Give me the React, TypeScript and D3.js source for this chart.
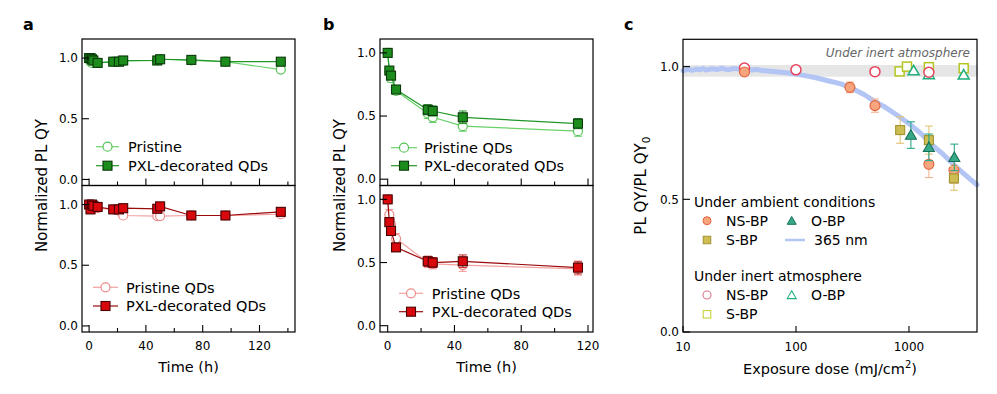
import React from 'react';
import * as d3 from 'd3';

const FONT = '"DejaVu Sans", Verdana, sans-serif';

// ---- panel a (storage, 135 h) ----
const aTime = [0, 1, 2, 3, 6, 17, 21, 24, 48, 50, 72, 96, 135];
const aGreenPristine = [1.0, 0.97, 0.96, 0.97, 0.96, 0.97, 0.97, 0.975, 0.98, 0.99, 0.98, 0.97, 0.905];
const aGreenPXL = [1.0, 1.0, 0.99, 0.98, 0.96, 0.97, 0.97, 0.98, 0.98, 0.99, 0.985, 0.97, 0.97];
const aRedPristine = [1.0, 0.99, 0.98, 0.98, 0.97, 0.96, 0.95, 0.91, 0.905, 0.905, 0.91, 0.91, 0.92];
const aRedPXL = [1.0, 0.96, 1.0, 0.99, 0.98, 0.96, 0.96, 0.97, 0.965, 0.985, 0.91, 0.91, 0.94];

// ---- panel b (illumination, 115 h) ----
const bTime = [0, 1, 2, 5, 24, 27, 45, 114];
const bGreenPristine = [1.0, 0.85, 0.8, 0.7, 0.52, 0.49, 0.42, 0.38];
const bGreenPristineErr = [0.01, 0.02, 0.03, 0.03, 0.04, 0.04, 0.04, 0.04];
const bGreenPXL = [1.0, 0.86, 0.82, 0.71, 0.55, 0.54, 0.49, 0.44];
const bGreenPXLErr = [0.01, 0.02, 0.02, 0.03, 0.04, 0.04, 0.05, 0.04];
const bRedPristine = [1.0, 0.88, 0.8, 0.69, 0.5, 0.49, 0.48, 0.45];
const bRedPristineErr = [0.01, 0.04, 0.04, 0.04, 0.04, 0.04, 0.05, 0.05];
const bRedPXL = [1.0, 0.82, 0.75, 0.62, 0.51, 0.5, 0.51, 0.46];
const bRedPXLErr = [0.01, 0.03, 0.03, 0.03, 0.04, 0.04, 0.05, 0.05];

const timeMajor = [0, 40, 80, 120];
const aTimeMinor = [20, 60, 100, 140];
const bTimeMinor = [20, 60, 100];
const qyTicks = [0, 0.5, 1.0];

// ---- panel c (exposure dose) ----
const lamp365Dose = [10, 11, 12, 13, 14, 15, 16, 18, 20, 22, 25, 28, 32, 36, 40, 45, 50, 60, 70, 85, 100, 120, 150, 200, 250, 300, 400, 500, 600, 800, 1000, 1300, 1600, 2000, 2500, 3000, 3500, 4000];
const lamp365QY = [0.985, 0.99, 0.986, 0.991, 0.988, 0.993, 0.987, 0.992, 0.989, 0.994, 0.988, 0.993, 0.99, 0.992, 0.987, 0.989, 0.985, 0.983, 0.98, 0.976, 0.972, 0.966, 0.958, 0.945, 0.935, 0.922, 0.895, 0.868, 0.85, 0.815, 0.785, 0.745, 0.705, 0.67, 0.63, 0.6, 0.575, 0.555];

const ambNSDose = [35, 300, 500, 1500, 2500];
const ambNSQY = [0.98, 0.922, 0.853, 0.632, 0.61];
const ambNSErr = [0.01, 0.02, 0.025, 0.05, 0.05];
const ambSDose = [836, 1500, 2500];
const ambSQY = [0.761, 0.723, 0.579];
const ambSErr = [0.05, 0.053, 0.045];
const ambODose = [1040, 1500, 2520];
const ambOQY = [0.742, 0.696, 0.658];
const ambOErr = [0.05, 0.05, 0.05];

const inNSDose = [35, 100, 500, 1500];
const inNSQY = [0.995, 0.988, 0.981, 0.979];
const inSDose = [826, 960, 1500, 3050];
const inSQY = [0.982, 1.0, 0.998, 0.994];
const inODose = [1100, 1500, 3050];
const inOQY = [0.985, 0.97, 0.969];

const doseTicks = [10, 100, 1000];
const inertBand = [0.962, 1.006];

type Kind = 'circle' | 'square' | 'triangle';

function Marker({ kind, x, y, size, fill, stroke, sw = 1 }: { kind: Kind; x: number; y: number; size: number; fill: string; stroke: string; sw?: number }) {
  if (kind === 'circle') return <circle cx={x} cy={y} r={size / 2} fill={fill} stroke={stroke} strokeWidth={sw} />;
  if (kind === 'square') return <rect x={x - size / 2} y={y - size / 2} width={size} height={size} fill={fill} stroke={stroke} strokeWidth={sw} />;
  const area = (Math.sqrt(3) / 4) * size * size;
  const d = d3.symbol(d3.symbolTriangle, area)() || '';
  return <path d={d} transform={`translate(${x},${y + 1})`} fill={fill} stroke={stroke} strokeWidth={sw} />;
}

interface Series {
  t: number[];
  v: number[];
  err?: number[];
  kind: Kind;
  fill: string;
  stroke: string;
  line: string;
  errColor?: string;
  label: string;
}

interface LegendPos { x0: number; x1: number; text: number; rows: number[] }

function SubPlot({ x, top, bottom, yDomain, series, legend, minor, showX }: {
  x: d3.ScaleLinear<number, number>; top: number; bottom: number; yDomain: [number, number];
  series: Series[]; legend: LegendPos; minor: number[]; showX: boolean;
}) {
  const y = d3.scaleLinear().domain(yDomain).range([bottom, top]);
  const [left, right] = x.range();
  const fmt = d3.format('.1f');
  return (
    <g>
      {series.map((s, si) => {
        const line = d3.line<number>().x((_, i) => x(s.t[i])).y((d) => y(d));
        return (
          <g key={si}>
            {s.err && s.err.map((e, i) => (
              <g key={i} stroke={s.errColor || s.line} strokeWidth={1}>
                <line x1={x(s.t[i])} x2={x(s.t[i])} y1={y(s.v[i] - e)} y2={y(s.v[i] + e)} />
                <line x1={x(s.t[i]) - 4} x2={x(s.t[i]) + 4} y1={y(s.v[i] - e)} y2={y(s.v[i] - e)} />
                <line x1={x(s.t[i]) - 4} x2={x(s.t[i]) + 4} y1={y(s.v[i] + e)} y2={y(s.v[i] + e)} />
              </g>
            ))}
            <path d={line(s.v) || ''} fill="none" stroke={s.line} strokeWidth={1.2} />
            {s.v.map((v, i) => (
              <Marker key={i} kind={s.kind} x={x(s.t[i])} y={y(v)} size={9} fill={s.fill} stroke={s.stroke} sw={s.kind === 'square' ? 1.1 : 1.2} />
            ))}
          </g>
        );
      })}
      {series.map((s, si) => (
        <g key={`lg${si}`}>
          <line x1={legend.x0} x2={legend.x1} y1={legend.rows[si]} y2={legend.rows[si]} stroke={s.line} strokeWidth={1.2} />
          <Marker kind={s.kind} x={(legend.x0 + legend.x1) / 2} y={legend.rows[si]} size={9} fill={s.fill} stroke={s.stroke} sw={s.kind === 'square' ? 1.1 : 1.2} />
          <text x={legend.text} y={legend.rows[si]} dy="0.36em" fontSize={14.5} fontFamily={FONT}>{s.label}</text>
        </g>
      ))}
      <rect x={left} y={top} width={right - left} height={bottom - top} fill="none" stroke="#000" strokeWidth={1.2} />
      {qyTicks.map((t) => (
        <g key={`y${t}`}>
          <line x1={left} x2={left + 7} y1={y(t)} y2={y(t)} stroke="#000" strokeWidth={1.1} />
          <text x={left - 4} y={y(t)} dy="0.35em" textAnchor="end" fontSize={12} fontFamily={FONT}>{fmt(t)}</text>
        </g>
      ))}
      {timeMajor.map((t) => (
        <g key={`x${t}`}>
          <line x1={x(t)} x2={x(t)} y1={bottom} y2={bottom - 7} stroke="#000" strokeWidth={1.1} />
          {showX && <text x={x(t)} y={350} textAnchor="middle" fontSize={12} fontFamily={FONT}>{t}</text>}
        </g>
      ))}
      {minor.map((t) => (
        <line key={`m${t}`} x1={x(t)} x2={x(t)} y1={bottom} y2={bottom - 4} stroke="#000" strokeWidth={1.1} />
      ))}
    </g>
  );
}

const G_PRI = { kind: 'circle' as Kind, fill: '#fff', stroke: '#55c455', line: '#6ad26a', errColor: '#5fca5f' };
const G_PXL = { kind: 'square' as Kind, fill: '#1c8c1c', stroke: '#0a3a0a', line: '#22962a', errColor: '#1f8f25' };
const R_PRI = { kind: 'circle' as Kind, fill: '#fff', stroke: '#ef8a8a', line: '#f4a2a2', errColor: '#f09a9a' };
const R_PXL = { kind: 'square' as Kind, fill: '#d8080c', stroke: '#4a0000', line: '#9a0a0a', errColor: '#c02020' };

function PanelC() {
  const x = d3.scaleLog().domain([10, 4000]).range([683, 977]);
  const y = d3.scaleLinear().domain([0, 1.103]).range([332, 39.3]);
  const [left, right] = x.range();
  const top = 39.3, bottom = 332;
  const fmt = d3.format('.1f');
  const blue = d3.line<number>().x((_, i) => x(lamp365Dose[i])).y((d) => y(d)).curve(d3.curveLinear);

  const amb = [
    { dose: ambNSDose, v: ambNSQY, err: ambNSErr, kind: 'circle' as Kind, fill: '#f6a57c', stroke: '#e4633f', ec: '#f3b58f', size: 10 },
    { dose: ambSDose, v: ambSQY, err: ambSErr, kind: 'square' as Kind, fill: '#cdbd52', stroke: '#a29330', ec: '#e2c676', size: 9 },
    { dose: ambODose, v: ambOQY, err: ambOErr, kind: 'triangle' as Kind, fill: '#38a987', stroke: '#17705a', ec: '#2aa78a', size: 11 },
  ];
  const inert = [
    { dose: inSDose, v: inSQY, kind: 'square' as Kind, stroke: '#b3c61f', size: 9 },
    { dose: inODose, v: inOQY, kind: 'triangle' as Kind, stroke: '#1fae7e', size: 11 },
    { dose: inNSDose, v: inNSQY, kind: 'circle' as Kind, stroke: '#e6445c', size: 10 },
  ];

  return (
    <g>
      <rect x={left} y={y(inertBand[1])} width={right - left + 1} height={y(inertBand[0]) - y(inertBand[1])} fill="#e6e6e6" />
      <path d={blue(lamp365QY) || ''} fill="none" stroke="#b3c5f5" strokeWidth={5} strokeLinejoin="round" strokeLinecap="round" />
      {inert.map((s, si) => (
        <g key={`in${si}`}>
          {s.v.map((v, i) => (
            <Marker key={i} kind={s.kind} x={x(s.dose[i])} y={y(v)} size={s.size} fill="#fff" stroke={s.stroke} sw={1.5} />
          ))}
        </g>
      ))}
      {amb.map((s, si) => (
        <g key={`am${si}`}>
          {s.err.map((e, i) => (
            <g key={i} stroke={s.ec} strokeWidth={1.1}>
              <line x1={x(s.dose[i])} x2={x(s.dose[i])} y1={y(s.v[i] - e)} y2={y(s.v[i] + e)} />
              <line x1={x(s.dose[i]) - 4} x2={x(s.dose[i]) + 4} y1={y(s.v[i] - e)} y2={y(s.v[i] - e)} />
              <line x1={x(s.dose[i]) - 4} x2={x(s.dose[i]) + 4} y1={y(s.v[i] + e)} y2={y(s.v[i] + e)} />
            </g>
          ))}
          {s.v.map((v, i) => (
            <Marker key={i} kind={s.kind} x={x(s.dose[i])} y={y(v)} size={s.size} fill={s.fill} stroke={s.stroke} sw={1.1} />
          ))}
        </g>
      ))}
      <text x={970} y={56.5} textAnchor="end" fontSize={12} fontStyle="italic" fill="#666" fontFamily={FONT}>Under inert atmosphere</text>
      <rect x={left} y={top} width={right - left} height={bottom - top} fill="none" stroke="#000" strokeWidth={1.2} />
      {qyTicks.map((t) => (
        <g key={`cy${t}`}>
          <line x1={left} x2={left + 7} y1={y(t)} y2={y(t)} stroke="#000" strokeWidth={1.1} />
          <text x={left - 4} y={y(t)} dy="0.35em" textAnchor="end" fontSize={12} fontFamily={FONT}>{fmt(t)}</text>
        </g>
      ))}
      {doseTicks.map((t) => (
        <g key={`cx${t}`}>
          <line x1={x(t)} x2={x(t)} y1={bottom} y2={bottom - 6} stroke="#000" strokeWidth={1.1} />
          <text x={x(t)} y={351} textAnchor="middle" fontSize={12} fontFamily={FONT}>{t}</text>
        </g>
      ))}
      <text x={(left + right) / 2} y={374} textAnchor="middle" fontSize={14.5} fontFamily={FONT}>
        Exposure dose (mJ/cm<tspan dy={-6} fontSize={10}>2</tspan><tspan dy={6}>)</tspan>
      </text>
      <text transform={`translate(646,${(top + bottom) / 2}) rotate(-90)`} textAnchor="middle" fontSize={15} fontFamily={FONT}>
        PL QY/PL QY<tspan dy={4} fontSize={10.5}>0</tspan>
      </text>
      {/* legend */}
      <g fontFamily={FONT} fontSize={14}>
        <text x={694} y={206.7}>Under ambient conditions</text>
        <Marker kind="circle" x={707} y={220.7} size={8} fill="#f6a57c" stroke="#e4633f" />
        <text x={726} y={225.7}>NS-BP</text>
        <Marker kind="triangle" x={791.7} y={220.7} size={9} fill="#38a987" stroke="#17705a" />
        <text x={811} y={225.7}>O-BP</text>
        <Marker kind="square" x={707} y={240} size={7.5} fill="#cdbd52" stroke="#a29330" />
        <text x={726} y={245}>S-BP</text>
        <line x1={785} x2={805} y1={240} y2={240} stroke="#b3c5f5" strokeWidth={2.5} />
        <text x={814} y={245}>365 nm</text>
        <text x={694} y={280.7}>Under inert atmosphere</text>
        <Marker kind="circle" x={707} y={295} size={8} fill="#fff" stroke="#d9788c" sw={1.1} />
        <text x={726} y={300}>NS-BP</text>
        <Marker kind="triangle" x={791.7} y={295} size={9} fill="#fff" stroke="#1fae7e" sw={1.1} />
        <text x={811} y={300}>O-BP</text>
        <Marker kind="square" x={707} y={314.3} size={7.5} fill="#fff" stroke="#c9d23a" sw={1.1} />
        <text x={726} y={319.3}>S-BP</text>
      </g>
    </g>
  );
}

export default function App() {
  const ax = d3.scaleLinear().domain([-5, 145]).range([82, 295]);
  const bx = d3.scaleLinear().domain([-4.6, 123]).range([380, 593]);
  const aY: [number, number] = [-0.05, 1.157];
  const bY: [number, number] = [-0.05, 1.11];
  const mid = 185.5;

  return (
    <svg width={997} height={394} style={{ position: 'absolute', left: 0, top: 0, background: '#fff' }}>
      <rect width={997} height={394} fill="#fff" />
      {/* a */}
      <SubPlot x={ax} top={39} bottom={mid} yDomain={aY} minor={aTimeMinor} showX={false}
        legend={{ x0: 96, x1: 119, text: 128, rows: [146.7, 165.7] }}
        series={[
          { t: aTime, v: aGreenPristine, ...G_PRI, label: 'Pristine' },
          { t: aTime, v: aGreenPXL, ...G_PXL, label: 'PXL-decorated QDs' },
        ]} />
      <SubPlot x={ax} top={mid} bottom={332} yDomain={aY} minor={aTimeMinor} showX={true}
        legend={{ x0: 93, x1: 118, text: 126, rows: [287.3, 306] }}
        series={[
          { t: aTime, v: aRedPristine, ...R_PRI, label: 'Pristine QDs' },
          { t: aTime, v: aRedPXL, ...R_PXL, label: 'PXL-decorated QDs' },
        ]} />
      {/* b */}
      <SubPlot x={bx} top={39} bottom={mid} yDomain={bY} minor={bTimeMinor} showX={false}
        legend={{ x0: 391, x1: 417, text: 424, rows: [147.7, 165.7] }}
        series={[
          { t: bTime, v: bGreenPristine, err: bGreenPristineErr, ...G_PRI, label: 'Pristine QDs' },
          { t: bTime, v: bGreenPXL, err: bGreenPXLErr, ...G_PXL, label: 'PXL-decorated QDs' },
        ]} />
      <SubPlot x={bx} top={mid} bottom={332} yDomain={bY} minor={bTimeMinor} showX={true}
        legend={{ x0: 399, x1: 423, text: 431.7, rows: [293.3, 311.7] }}
        series={[
          { t: bTime, v: bRedPristine, err: bRedPristineErr, ...R_PRI, label: 'Pristine QDs' },
          { t: bTime, v: bRedPXL, err: bRedPXLErr, ...R_PXL, label: 'PXL-decorated QDs' },
        ]} />
      <g fontFamily={FONT} fontSize={14.5}>
        <text x={(82 + 295) / 2} y={372} textAnchor="middle">Time (h)</text>
        <text x={(380 + 593) / 2} y={372} textAnchor="middle">Time (h)</text>
        <text transform={`translate(47,${mid}) rotate(-90)`} textAnchor="middle" fontSize={15}>Normalized PL QY</text>
        <text transform={`translate(345,${mid}) rotate(-90)`} textAnchor="middle" fontSize={15}>Normalized PL QY</text>
      </g>
      <PanelC />
      <g fontFamily={FONT} fontSize={16} fontWeight="bold">
        <text x={23} y={30}>a</text>
        <text x={323} y={30}>b</text>
        <text x={624} y={30}>c</text>
      </g>
    </svg>
  );
}
